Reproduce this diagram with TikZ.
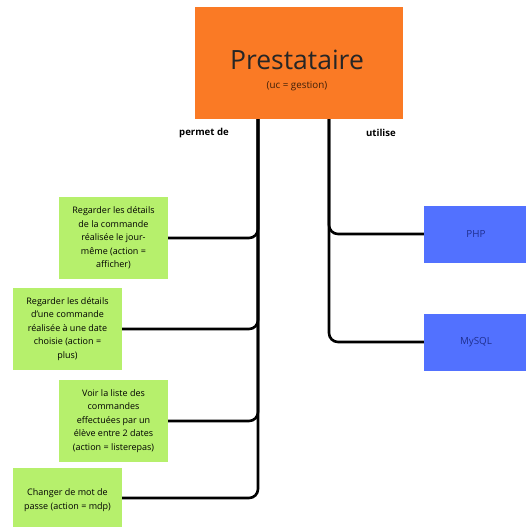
\documentclass[tikz,border=0pt]{standalone}
\usepackage{fontspec}
\setmainfont{Open Sans}
\definecolor{orangebox}{HTML}{FA7A25}
\definecolor{greenbox}{HTML}{B6F06C}
\definecolor{bluebox}{HTML}{5271FF}
\definecolor{bluetext}{HTML}{1F2F8F}
\tikzset{
	actionbox/.style={fill=greenbox, minimum width=109pt, align=center,
		inner sep=3pt, font=\fontsize{9}{13.5}\selectfont},
	techbox/.style={fill=bluebox, minimum width=104pt, minimum height=57pt,
		text=bluetext, font=\fontsize{9.8}{11}\selectfont},
	branch/.style={line width=2.6pt, rounded corners=9pt},
	lbl/.style={font=\bfseries\fontsize{9.6}{11}\selectfont}
}
\begin{document}
\begin{tikzpicture}[x=1pt,y=-1pt]
	% --- cadre ---
	\useasboundingbox (0,0) rectangle (525,527);
	% --- acteur ---
	\node[fill=orangebox, minimum width=208pt, minimum height=112pt, anchor=north west,
		inner sep=0pt] (pres) at (195,7) {};
	\node[font=\fontsize{26.5}{28}\selectfont, text=black!85] (titre) at (297,60) {Prestataire};
	\node[font=\fontsize{9.8}{11}\selectfont, text=black!75!orangebox] (uc) at (297,86) {(uc = gestion)};
	\node[lbl] (permet) at (204,133) {permet de};
	\node[lbl] (utilise) at (381,133) {utilise};
	\coordinate (tg) at (258,119);
	\coordinate (td) at (329,119);
	% --- actions ---
	\node[actionbox, minimum height=82pt] (g1) at (113.5,238) {Regarder les détails\\de la commande\\réalisée le jour-\\même (action =\\afficher)};
	\node[actionbox, minimum height=82pt] (g2) at (67.5,329) {Regarder les détails\\d'une commande\\réalisée à une date\\choisie (action =\\plus)};
	\node[actionbox, minimum height=82pt] (g3) at (113.5,421) {Voir la liste des\\commandes\\effectuées par un\\élève entre 2 dates\\(action = listerepas)};
	\node[actionbox, minimum height=64pt] (g4) at (67.5,500) {Changer de mot de\\passe (action = mdp)};
	% --- technologies ---
	\node[techbox] (php) at (476,234) {PHP};
	\node[techbox] (mysql) at (476,342) {MySQL};
	% --- liaisons ---
	\foreach \g in {g1,g2,g3}
		\draw[branch] (tg) |- (\g.east);
	\draw[branch] (tg) |- (g4.east |- 0,498);
	\draw[branch] (td) |- (php.west);
	\draw[branch] (td) |- (mysql.west);
\end{tikzpicture}
\end{document}
